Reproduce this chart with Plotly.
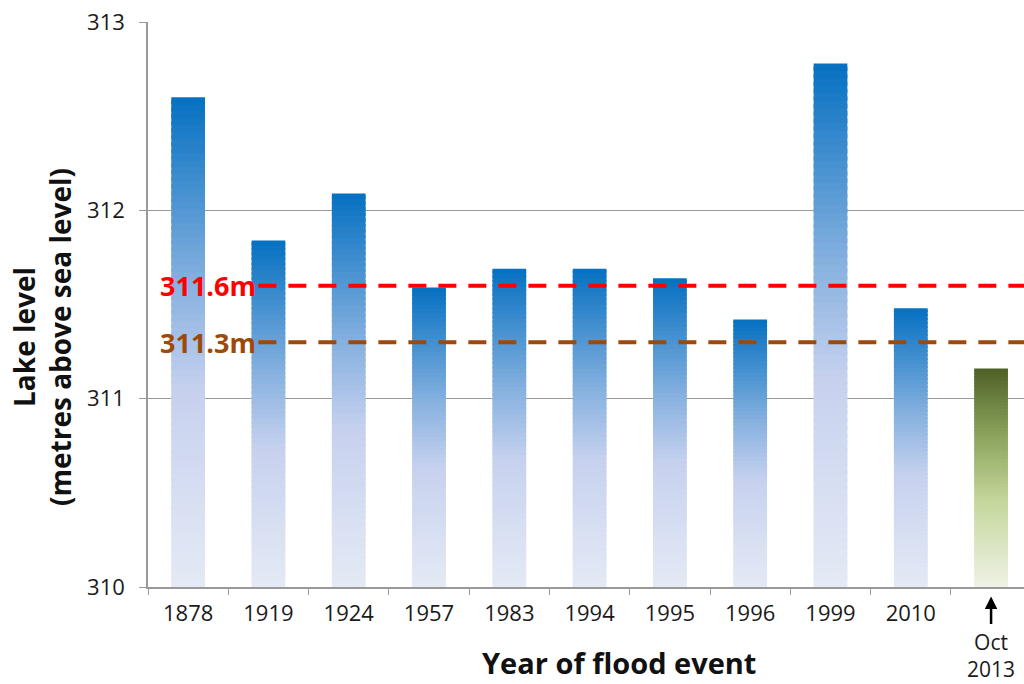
import plotly.graph_objects as go

categories = ["1878", "1919", "1924", "1957", "1983", "1994", "1995", "1996", "1999", "2010", "Oct 2013"]
levels = [312.60, 311.84, 312.09, 311.59, 311.69, 311.69, 311.64, 311.42, 312.78, 311.48, 311.16]
tick_labels = ["1878", "1919", "1924", "1957", "1983", "1994", "1995", "1996", "1999", "2010", ""]
thresholds = [311.6, 311.3]
threshold_labels = ["311.6m", "311.3m"]
threshold_colors = ["#FF0000", "#9C4A0C"]
BASE = 310

blue_stops = [(0.0, "#E4EAF5"), (0.4, "#C6D1EE"), (0.62, "#86B1DF"), (1.0, "#0570C1")]
green_stops = [(0.0, "#EFF3E5"), (0.4, "#C3D69B"), (0.7, "#8AA25A"), (1.0, "#4E6128")]


def hex2rgb(h):
    h = h.lstrip("#")
    return tuple(int(h[i:i + 2], 16) for i in (0, 2, 4))


def interp(stops, t):
    for (t0, c0), (t1, c1) in zip(stops[:-1], stops[1:]):
        if t <= t1:
            f = (t - t0) / (t1 - t0) if t1 > t0 else 0
            a, b = hex2rgb(c0), hex2rgb(c1)
            return "rgb(%d,%d,%d)" % tuple(round(a[i] + (b[i] - a[i]) * f) for i in range(3))
    return stops[-1][1]


N = 70
fig = go.Figure()
for k in range(N):
    bases, heights, colors = [], [], []
    for i, v in enumerate(levels):
        step = (v - BASE) / N
        b = BASE + k * step
        h = step * 1.6 if k < N - 1 else step
        h = min(h, v - b)
        bases.append(b)
        heights.append(h)
        stops = green_stops if i == len(levels) - 1 else blue_stops
        colors.append(interp(stops, (k + 0.5) / N))
    fig.add_trace(go.Bar(x=categories, y=heights, base=bases, width=0.42,
                         marker=dict(color=colors, line=dict(width=0)),
                         showlegend=False, hoverinfo="skip"))

FONT = "Open Sans"
TICK = dict(family=FONT, size=22, color="#1a1a1a")
shapes = []
annotations = []
for val, lab, col in zip(thresholds, threshold_labels, threshold_colors):
    shapes.append(dict(type="line", xref="paper", yref="y", x0=0.126, x1=1, y0=val, y1=val,
                       line=dict(color=col, width=4, dash="18px,12px"), layer="above"))
    annotations.append(dict(xref="paper", yref="y", x=0.125, y=val, text="<b>%s</b>" % lab,
                            showarrow=False, xanchor="right", yanchor="middle",
                            font=dict(family=FONT, size=27, color=col)))

annotations.append(dict(xref="x", yref="paper", x=categories[-1], y=-0.122, text="Oct<br>2013",
                        showarrow=False, xanchor="center", yanchor="middle",
                        font=dict(family=FONT, size=21, color="#1a1a1a")))
annotations.append(dict(xref="x", yref="paper", x=categories[-1], y=-0.017, ax=0, ay=29,
                        text="", showarrow=True, arrowhead=2, arrowsize=1, arrowwidth=2.5,
                        arrowcolor="#000000", standoff=0))
annotations.append(dict(xref="paper", yref="paper", x=0.5377, y=-0.133, text="<b>Year of flood event</b>",
                        showarrow=False, xanchor="center", yanchor="middle",
                        font=dict(family=FONT, size=29, color="#111111")))
annotations.append(dict(xref="paper", yref="paper", x=-0.121, y=0.4425,
                        text="<b>Lake level<br>(metres above sea level)</b>", textangle=-90,
                        showarrow=False, xanchor="center", yanchor="middle",
                        font=dict(family=FONT, size=28, color="#111111")))

fig.update_layout(
    width=1024, height=684,
    margin=dict(l=148, r=0, t=22, b=97),
    paper_bgcolor="white", plot_bgcolor="white",
    barmode="overlay",
    shapes=shapes, annotations=annotations,
    xaxis=dict(type="category", categoryorder="array", categoryarray=categories,
               tickvals=categories, ticktext=tick_labels,
               range=[-0.5, 10.41], showline=True, linecolor="#999999", linewidth=1.5,
               ticks="outside", tickson="boundaries", ticklen=6, tickcolor="#999999",
               ticklabelstandoff=6, tickfont=TICK, showgrid=False),
    yaxis=dict(range=[310, 313], dtick=1, showline=True, linecolor="#999999", linewidth=1.5,
               ticks="outside", ticklen=7, tickcolor="#999999", ticklabelstandoff=10,
               showgrid=True, gridcolor="#999999", gridwidth=1, zeroline=False,
               tickfont=TICK),
)

fig.write_html("out.html", post_script="document.body.style.margin='0';",
               config={"displayModeBar": False})
